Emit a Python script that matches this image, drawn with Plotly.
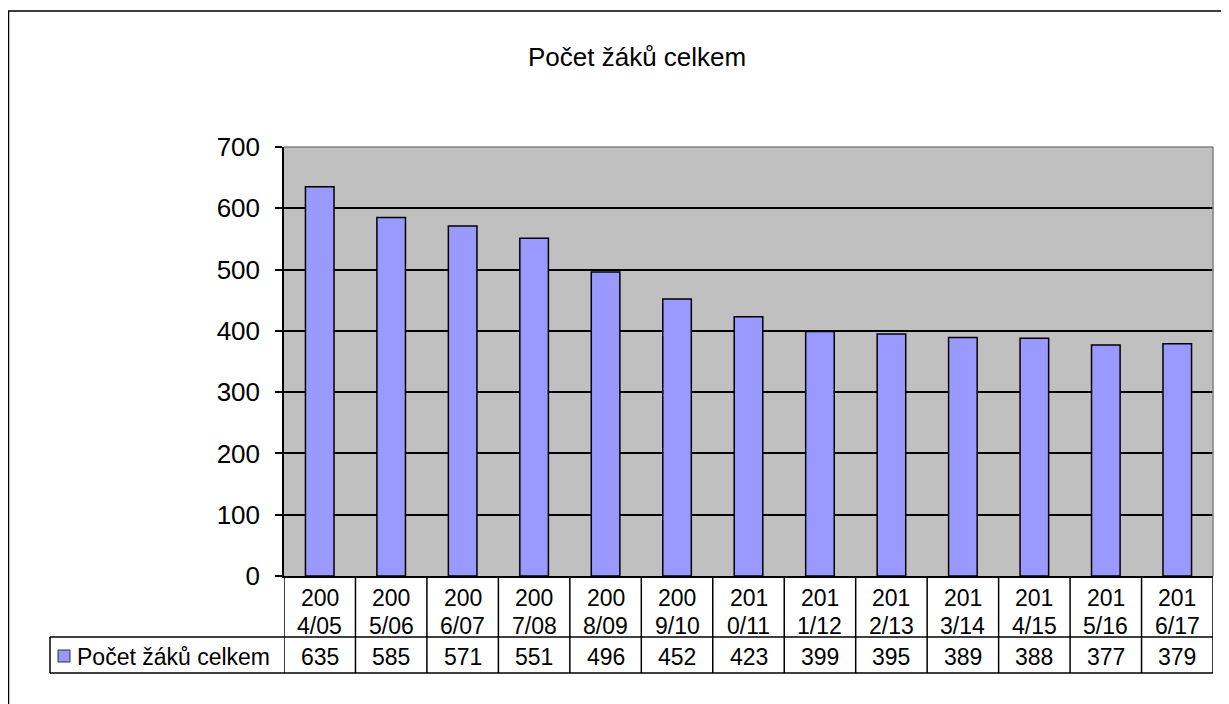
import plotly.graph_objects as go

title = "Počet žáků celkem"
series_name = "Počet žáků celkem"
categories = ["2004/05", "2005/06", "2006/07", "2007/08", "2008/09", "2009/10",
              "2010/11", "2011/12", "2012/13", "2013/14", "2014/15", "2015/16", "2016/17"]
values = [635, 585, 571, 551, 496, 452, 423, 399, 395, 389, 388, 377, 379]
y_ticks = [0, 100, 200, 300, 400, 500, 600, 700]

# page body has an 8px margin; work in reference pixel coords and shift
OFF = 8
W, H = 1229 - OFF, 704 - OFF
PL, PR, PT, PB = 284, 1213, 147, 576  # plot area in reference pixels
L, R, T, B = PL - OFF, W - (PR - OFF), PT - OFF, H - (PB - OFF)
ph = PB - PT
pw = PR - PL
FONT = "Liberation Sans, Arial, sans-serif"
BAR = "#9999FF"

n = len(categories)
xs = list(range(n))

def px(pix):
    return (pix - PL) / pw

def py(pix):
    return (PB - pix) / ph

fig = go.Figure()
fig.add_trace(go.Bar(x=xs, y=values, width=0.4, marker=dict(color=BAR, line=dict(color="black", width=1.5)),
                     showlegend=False, hoverinfo="y"))

row1_bot = py(637)
row2_bot = py(673)
legend_left = px(50)

shapes = []
shapes.append(dict(type="line", xref="paper", yref="paper", x0=legend_left, x1=1, y0=row1_bot, y1=row1_bot,
                   line=dict(color="black", width=1.5)))
shapes.append(dict(type="line", xref="paper", yref="paper", x0=legend_left, x1=1, y0=row2_bot, y1=row2_bot,
                   line=dict(color="black", width=1.5)))
shapes.append(dict(type="line", xref="paper", yref="paper", x0=legend_left, x1=legend_left, y0=row1_bot, y1=row2_bot,
                   line=dict(color="black", width=1.5)))
for i in range(n + 1):
    shapes.append(dict(type="line", xref="x", yref="paper", x0=i - 0.5, x1=i - 0.5, y0=0, y1=row2_bot,
                       line=dict(color="black", width=1.5)))
shapes.append(dict(type="line", xref="paper", yref="paper", x0=0, x1=1, y0=1, y1=1, line=dict(color="#808080", width=1.5)))
shapes.append(dict(type="line", xref="paper", yref="paper", x0=1, x1=1, y0=0, y1=1, line=dict(color="#808080", width=1.5)))
# outer chart border (only left & top visible)
shapes.append(dict(type="rect", xref="paper", yref="paper",
                   x0=px(8.5), x1=px(1260), y0=py(740), y1=py(11),
                   line=dict(color="black", width=1.5)))
# legend key
shapes.append(dict(type="rect", xref="paper", yref="paper",
                   x0=px(58), x1=px(70), y0=py(662), y1=py(650),
                   line=dict(color="#333333", width=1), fillcolor=BAR))

annotations = []
tf = dict(family=FONT, size=23, color="black")
for i, c in enumerate(categories):
    annotations.append(dict(x=i, y=py(598), xref="x", yref="paper", text=c[:3], showarrow=False,
                            font=tf, yanchor="middle"))
    annotations.append(dict(x=i, y=py(626), xref="x", yref="paper", text=c[3:], showarrow=False,
                            font=tf, yanchor="middle"))
    annotations.append(dict(x=i, y=py(657), xref="x", yref="paper", text=str(values[i]),
                            showarrow=False, font=tf, yanchor="middle"))
annotations.append(dict(x=px(75), y=py(657), xref="paper", yref="paper", text=series_name,
                        showarrow=False, xanchor="left", yanchor="middle", font=tf))
annotations.append(dict(x=px(637), y=py(57), xref="paper", yref="paper", text=title, showarrow=False,
                        xanchor="center", yanchor="middle", font=dict(family=FONT, size=26, color="black")))

fig.update_layout(
    width=W, height=H, margin=dict(l=L, r=R, t=T, b=B),
    paper_bgcolor="white", plot_bgcolor="#C0C0C0",
    shapes=shapes, annotations=annotations,
    xaxis=dict(range=[-0.5, n - 0.5], showticklabels=False, showgrid=False, zeroline=False,
               showline=True, linecolor="black", linewidth=1.5, ticks=""),
    yaxis=dict(range=[0, 700], tickvals=y_ticks, showgrid=True, gridcolor="black", gridwidth=1.5,
               zeroline=False, showline=True, linecolor="black", linewidth=1.5,
               ticks="outside", ticklen=7, tickcolor="black", tickwidth=1.5,
               tickfont=dict(family=FONT, size=26, color="black"), ticklabelstandoff=10),
    font=dict(family=FONT),
)

fig.write_html("out.html")
